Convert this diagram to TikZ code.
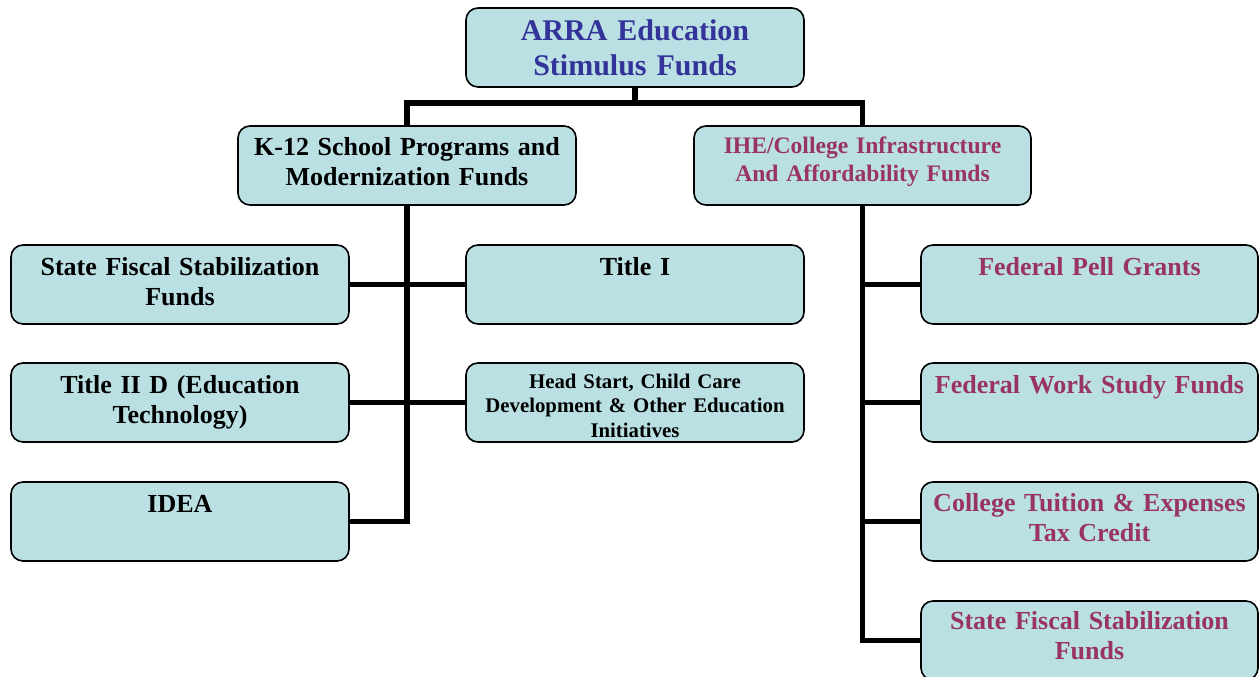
\documentclass[tikz,border=0pt]{standalone}
\usepackage{fontspec}
\setmainfont{Liberation Serif}
\usetikzlibrary{calc}
\definecolor{boxfill}{RGB}{186,224,227}
\definecolor{ttblue}{RGB}{51,51,153}
\definecolor{ttmag}{RGB}{153,51,102}
\begin{document}
\begin{tikzpicture}[x=1pt,y=-1pt,
  box/.style={draw=black, line width=1.6pt, rounded corners=12pt, fill=boxfill,
    minimum width=338pt, minimum height=79pt, anchor=north west, inner sep=0pt, outer sep=0pt},
  conn/.style={line width=5.5pt, line join=miter},
  lbl/.style={anchor=base, align=center, inner sep=0pt, text width=330pt},
  big/.style={font=\bfseries\fontsize{30}{35}\selectfont, text=ttblue},
  std/.style={font=\bfseries\fontsize{26}{30.5}\selectfont},
  mid/.style={font=\bfseries\fontsize{23.6}{28.5}\selectfont},
  sml/.style={font=\bfseries\fontsize{20.8}{24.5}\selectfont},
  mag/.style={text=ttmag}]
\useasboundingbox (0,0) rectangle (1259,677);
% boxes
\node[box] (top) at (466,8) {};
\node[box] (k12) at (238,126) {};
\node[box, minimum width=337pt] (ihe) at (694,126) {};
\node[box] (sfs) at (11,245) {};
\node[box] (t1) at (466,245) {};
\node[box] (t2d) at (11,363) {};
\node[box] (hs) at (466,363) {};
\node[box] (idea) at (11,482) {};
\node[box, minimum width=337pt] (pell) at (921,245) {};
\node[box, minimum width=337pt] (fws) at (921,363) {};
\node[box, minimum width=337pt] (ctc) at (921,482) {};
\node[box, minimum width=337pt] (sfs2) at (921,601) {};
% connectors
\coordinate (bus) at (635,103);
\draw[conn] (top.south) -- (bus);
\draw[conn] (k12.north) |- (bus) -| (ihe.north);
\draw[conn] (k12.south) |- (idea.east);
\draw[conn] (sfs.east) -- (t1.west);
\draw[conn] (t2d.east) -- (hs.west);
\draw[conn] (ihe.south) |- (sfs2.west);
\draw[conn] (pell.west) -- (pell.west -| ihe.south);
\draw[conn] (fws.west) -- (fws.west -| ihe.south);
\draw[conn] (ctc.west) -- (ctc.west -| ihe.south);
% labels
\node[lbl, big] (topT) at ($(top.north)+(0,33)$) {ARRA Education\\Stimulus Funds};
\node[lbl, std] (k12T) at ($(k12.north)+(0,29)$) {K-12 School Programs and\\Modernization Funds};
\node[lbl, mid, mag] (iheT) at ($(ihe.north)+(0,27)$) {IHE/College Infrastructure\\And Affordability Funds};
\node[lbl, std] (sfsT) at ($(sfs.north)+(0,30)$) {State Fiscal Stabilization\\Funds};
\node[lbl, std] (t1T) at ($(t1.north)+(0,30)$) {Title I};
\node[lbl, std] (t2dT) at ($(t2d.north)+(0,30)$) {Title II D (Education\\Technology)};
\node[lbl, sml] (hsT) at ($(hs.north)+(0,25)$) {Head Start, Child Care\\Development \& Other Education\\Initiatives};
\node[lbl, std] (ideaT) at ($(idea.north)+(0,30)$) {IDEA};
\node[lbl, std, mag] (pellT) at ($(pell.north)+(0,30)$) {Federal Pell Grants};
\node[lbl, std, mag] (fwsT) at ($(fws.north)+(0,30)$) {Federal Work Study Funds};
\node[lbl, std, mag] (ctcT) at ($(ctc.north)+(0,29)$) {College Tuition \& Expenses\\Tax Credit};
\node[lbl, std, mag] (sfs2T) at ($(sfs2.north)+(0,28)$) {State Fiscal Stabilization\\Funds};
\end{tikzpicture}
\end{document}
